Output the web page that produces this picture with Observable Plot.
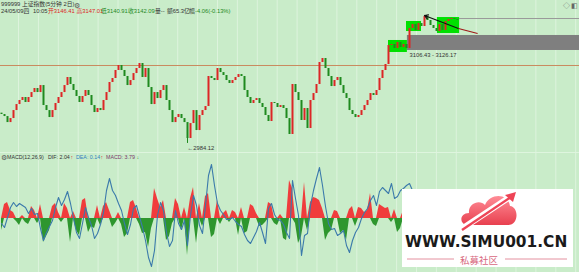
<!DOCTYPE html>
<html><head><meta charset="utf-8">
<script src="https://cdn.jsdelivr.net/npm/d3@7"></script>
<script src="https://cdn.jsdelivr.net/npm/@observablehq/plot@0.6"></script>
<style>
html,body{margin:0;padding:0;background:#c9ecc9;}
#wrap{position:relative;width:579px;height:272px;overflow:hidden;background:#c9ecc9;font-family:"Liberation Sans","Noto Sans CJK SC",sans-serif;}
#wrap svg{position:absolute;left:0;}
.t{position:absolute;white-space:nowrap;font-size:5.8px;line-height:1;color:#333;}
</style></head><body><div id="wrap"></div>
<script>
// ---- price (5-minute closes) ----
const closes=[3022.2,3019.5,3011.6,3016.9,3027.4,3035.3,3040.6,3044.6,3038.0,3044.6,
3051.1,3056.4,3051.1,3060.3,3034.0,3027.4,3018.2,3027.4,3036.7,3044.6,
3051.1,3060.3,3070.9,3061.7,3053.8,3045.9,3038.0,3045.9,3053.8,3047.2,
3034.0,3024.8,3030.1,3027.4,3040.6,3051.1,3064.3,3069.6,3080.1,3086.7,
3080.1,3072.2,3060.3,3066.9,3076.1,3082.7,3089.3,3070.9,3082.7,3057.7,
3035.3,3051.1,3043.2,3053.8,3060.3,3040.6,3027.4,3011.6,3018.2,3022.2,
3016.9,3011.6,2990.6,3010.3,3027.4,3001.1,3020.9,3027.4,3032.7,3072.2,
3069.6,3066.9,3082.7,3077.4,3073.5,3066.9,3063.0,3066.9,3070.9,3074.8,
3072.2,3053.8,3044.6,3036.7,3040.6,3043.2,3036.7,3031.4,3020.9,3013.0,
3038.0,3036.7,3031.4,3034.0,3030.1,3016.9,2995.9,3061.7,3051.1,3040.6,
3014.3,3030.1,3003.8,3040.6,3049.8,3061.7,3090.6,3095.9,3082.7,3072.2,
3059.0,3066.9,3070.9,3060.3,3049.8,3043.2,3027.4,3022.2,3018.2,3020.9,
3027.4,3034.0,3040.6,3049.8,3047.2,3053.8,3069.6,3080.1,3088.0,3113.0,
3114.3,3109.0,3116.9,3110.3,3114.3,3109.0,3135.4,3140.6,3132.7,3141.9,
3138.0,3151.1,3145.9,3139.3,3135.4,3131.4,3140.6,3132.7,3144.6,3147.2,
3148.5,3147.2,3145.9];
const firstOpen=3024.0;
const lowBar=62, lowValue=2984.12;
const refLevel=3086.7;
const bandLow=3106.43, bandHigh=3126.17, bandStart=135.3;
const boxStart=[129,135,145.3], boxEnd=[135.3,140,152.7];
const boxLow=[3103.8,3131.4,3128.8], boxHigh=[3119.6,3144.6,3149.8];
const topLevel=3148.5, topLevelStart=146.3;
const trendBars=[141,152.3,158.7], trendVals=[3152.5,3135.4,3128.8];
// ---- MACD (12,26,9) ----
const difs=[-1.0,-1.8,0.2,2.2,3.2,2.4,3.0,2.6,2.2,1.0,
2.0,0.8,1.0,-2.0,-4.4,-2.8,-1.6,-0.4,2.2,4.2,
2.6,3.8,5.4,3.0,0.0,-2.8,-4.0,-1.0,2.2,0.2,
-1.4,-4.0,-3.0,-1.2,1.2,5.6,8.0,5.6,4.6,3.0,
1.6,-1.0,-3.2,-1.2,2.0,2.6,0.4,-1.8,-4.4,-7.8,
-9.6,-6.4,0.6,3.2,1.6,-2.8,-5.6,-4.4,1.6,-1.0,
-2.2,-0.4,-5.4,0.6,4.6,2.6,-1.4,-3.0,2.6,8.6,
10.8,6.6,3.0,1.6,0.8,-0.2,-0.2,0.2,-0.6,-1.2,
-1.6,-3.2,-4.4,-5.0,-3.8,-2.6,-0.8,-2.8,-5.0,2.0,
3.0,0.8,-0.2,-0.4,-1.2,-2.8,-4.0,7.6,4.0,0.6,
-7.4,-3.4,-3.0,2.6,5.6,8.0,10.2,6.6,2.4,-1.0,
-2.2,-2.0,-3.4,-3.0,-2.4,-5.4,-6.8,-4.4,-2.8,-1.8,
0.0,1.2,2.0,3.6,4.6,2.6,5.4,6.2,5.6,5.0,
7.0,4.0,4.4,5.6,6.0,6.6,7.0,5.6,4.6,3.6,
2.6,4.0,5.2,4.4,3.0,1.6,2.4,3.6,2.8,1.8,
2.4,2.6,2.04];
const hist=[-2.4,2.8,3.2,1.6,1.2,-0.6,-1.4,0.6,-0.8,-1.2,
2.4,1.6,-1.0,2.8,-4.8,-3.6,-2.4,2.4,3.0,1.2,
-0.8,3.0,2.0,-4.8,1.4,-2.4,-3.4,3.6,4.0,-2.8,
-1.6,-2.0,2.6,-1.4,2.4,3.2,1.6,-1.8,-1.0,1.2,
-1.2,-3.8,-3.0,3.2,3.6,2.0,-1.2,-3.0,-2.8,-5.8,
-2.0,6.0,4.0,2.2,3.6,-4.4,-3.6,-1.0,4.0,2.8,
-2.4,2.2,-7.4,4.0,6.2,-5.0,3.0,-1.6,4.4,5.0,
-3.8,-3.2,3.6,-1.2,1.0,1.6,-0.8,1.6,1.2,-3.4,
2.2,-3.0,-2.6,2.8,2.4,1.0,-1.6,-1.4,-0.8,3.2,
2.8,-1.0,-1.4,0.8,-4.0,-4.4,7.6,6.0,-1.0,-5.0,
-3.6,7.2,-2.4,3.2,4.2,4.0,3.6,2.0,-4.4,-3.0,
-2.4,1.6,1.4,-3.0,-2.4,-4.4,1.8,2.4,-1.6,2.2,
2.0,1.2,1.6,5.0,-1.2,-1.6,2.8,2.4,2.0,2.2,
-0.8,1.8,-2.8,-2.0,1.6,2.0,1.2,-1.0,-1.6,0.8,
1.2,-1.2,1.0,1.4,0.6,-0.8,1.2,1.0,0.6,0.8,
0.4,1.0,3.79];
const macdHeader={dif:"2.04",dea:"0.14",macd:"3.79"};

const W=579, totalBars=193;
const xDomain=[-1/3,totalBars-1/3];
const gridTicks=d3.range(5.67,totalBars,6.633);
const RED="#dc2626", GREEN="#1f8a1f";
const font='"Liberation Sans","Noto Sans CJK SC",sans-serif';

const bars=closes.map((c,i)=>({i,open:i===0?firstOpen:closes[i-1],close:c}));
const boxes=boxStart.map((s,k)=>({x1:s,x2:boxEnd[k],y1:boxLow[k],y2:boxHigh[k]}));

const price=Plot.plot({
  width:W,height:153,margin:0,
  x:{domain:xDomain,axis:null},
  y:{domain:[2970.9,3172.2],axis:null},
  style:{background:"transparent",fontFamily:font,overflow:"visible"},
  marks:[
    Plot.ruleX(gridTicks,{x:d=>d,stroke:"#ddf3dd",strokeWidth:1}),
    Plot.ruleY([refLevel],{y:d=>d,stroke:"#c98a5f",strokeWidth:1}),
    Plot.rect([{x1:bandStart,x2:totalBars,y1:bandLow,y2:bandHigh}],{x1:"x1",x2:"x2",y1:"y1",y2:"y2",fill:"#7f7f7f"}),
    Plot.ruleY([topLevel],{y:d=>d,x1:topLevelStart,x2:totalBars,stroke:"#9a9a9a",strokeWidth:1}),
    Plot.rect(boxes,{x1:"x1",x2:"x2",y1:"y1",y2:"y2",fill:"#00e000"}),
    Plot.ruleX([{i:lowBar,a:closes[lowBar],b:lowValue}],{x:"i",y1:"a",y2:"b",stroke:GREEN,strokeWidth:1}),
    Plot.ruleX(bars,{x:"i",y1:"open",y2:"close",stroke:d=>d.close>=d.open?RED:GREEN,strokeWidth:2}),
    Plot.arrow([0],{x1:trendBars[1],y1:trendVals[1],x2:trendBars[0],y2:trendVals[0],stroke:"#111",strokeWidth:1.2,headLength:5}),
    Plot.link([0],{x1:trendBars[1],y1:trendVals[1],x2:trendBars[2],y2:trendVals[2],stroke:"#a01818",strokeWidth:1.2}),
    Plot.text([{i:lowBar,v:lowValue}],{x:"i",y:"v",text:d=>"\u2190"+d.v.toFixed(2),textAnchor:"start",dx:0,dy:4.5,fontSize:5.8,fill:"#333"}),
    Plot.text([{x:bandStart+0.7,lo:bandLow,hi:bandHigh}],{x:"x",y:"lo",text:d=>d.lo.toFixed(2)+" - "+d.hi.toFixed(2),textAnchor:"start",dy:4.5,fontSize:5.8,fill:"#333"})
  ]
});
price.style.top="0px";

const mrows=difs.map((d,i)=>({i,dif:d,h:hist[i]}));
const macd=Plot.plot({
  width:W,height:119,margin:0,
  x:{domain:xDomain,axis:null},
  y:{domain:[-10.8,13],axis:null},
  style:{background:"transparent",fontFamily:font},
  marks:[
    Plot.ruleX(gridTicks,{x:d=>d,stroke:"#ddf3dd",strokeWidth:1}),
    Plot.areaY(mrows,{x:"i",y1:0,y2:d=>Math.max(0,d.h),fill:"#f03c3c",curve:"linear"}),
    Plot.areaY(mrows,{x:"i",y1:0,y2:d=>Math.min(0,d.h),fill:"#2e962e",curve:"linear"}),
    Plot.line(mrows,{x:"i",y:"dif",stroke:"#3b7aab",strokeWidth:1.1})
  ]
});
macd.style.top="153px";

const wrap=document.getElementById("wrap");
wrap.appendChild(price);
wrap.appendChild(macd);

const sep=document.createElement("div");
sep.style.cssText="position:absolute;left:0;top:152px;width:579px;height:1px;background:#def5de;";
wrap.appendChild(sep);

function addText(txt,left,top,color,extra){
  const s=document.createElement("span");
  s.className="t";s.textContent=txt;s.style.left=left+"px";s.style.top=top+"px";
  if(color)s.style.color=color;
  if(extra)s.style.cssText+=extra;
  wrap.appendChild(s);
}
addText("999999 上证指数(5分钟 2日)",1,2,"#333");
addText("\u2699",74,1.5,"#555","font-size:7px;");
addText("24/05/09四",1,9,"#333");
addText("10:05",33,9,"#333");
addText("开3146.41",48,9,RED);
addText("高3147.01",76.5,9,RED);
addText("低3140.91",101,9,GREEN);
addText("收3142.09",128,9,GREEN);
addText("量--",155,9,"#333");
addText("额65.3亿",167,9,"#333");
addText("幅",189,9,"#333");
addText("-4.06(-0.13%)",195,9,GREEN);
addText("\u25C7",563,1.5,"#666","font-size:7px;");
addText("\u25E7",571,1.5,"#666","font-size:7px;");
addText("\u2699",1,153.5,"#555","font-size:7px;");
const mh="font-size:5.3px;";
addText("MACD(12,26,9)",7,154.5,"#333",mh);
addText("DIF: "+macdHeader.dif,48,154.5,"#333",mh);
addText("\u2191",70.5,154.5,RED,mh);
addText("DEA: "+macdHeader.dea,76,154.5,"#2f7fbf",mh);
addText("\u2191",100.5,154.5,RED,mh);
addText("MACD: "+macdHeader.macd,106,154.5,"#7a3a6a",mh);
addText("\u2193",136.5,154.5,GREEN,mh);

// watermark
const wm=document.createElementNS("http://www.w3.org/2000/svg","svg");
wm.setAttribute("width","171");wm.setAttribute("height","78");
wm.style.cssText="position:absolute;left:402px;top:189px;";
wm.innerHTML=`
<defs><linearGradient id="cg" x1="0" y1="0" x2="0" y2="1">
<stop offset="0" stop-color="#ff8c96"/><stop offset="1" stop-color="#e8404f"/></linearGradient></defs>
<rect width="171" height="78" fill="#ffffff"/>
<path d="M66 36 C57 36 57 24 67 24 C66 14 78 10 83 16 C88 4 106 4 108 17 C117 18 117 36 106 36 Z" fill="url(#cg)"/>
<line x1="58" y1="41" x2="108" y2="8" stroke="#fff" stroke-width="6"/>
<line x1="60" y1="41" x2="109" y2="8" stroke="#ee4456" stroke-width="2.4"/>
<path d="M103 6 L114 3 L111 13 Z" fill="#ee4456"/>
<text transform="translate(3,58) scale(1,1.08)" font-family="DejaVu Sans" font-weight="bold" font-size="15.4" fill="#1a1a1a">WWW.SIMU001.CN</text>
<line x1="5" y1="70" x2="52" y2="70" stroke="#e4909f" stroke-width="1"/>
<line x1="103" y1="70" x2="165" y2="70" stroke="#e4909f" stroke-width="1"/>
<text x="77" y="74.5" text-anchor="middle" font-family="Noto Sans CJK SC" font-size="9.5" fill="#d8687e">私募社区</text>`;
wrap.appendChild(wm);
</script></body></html>
